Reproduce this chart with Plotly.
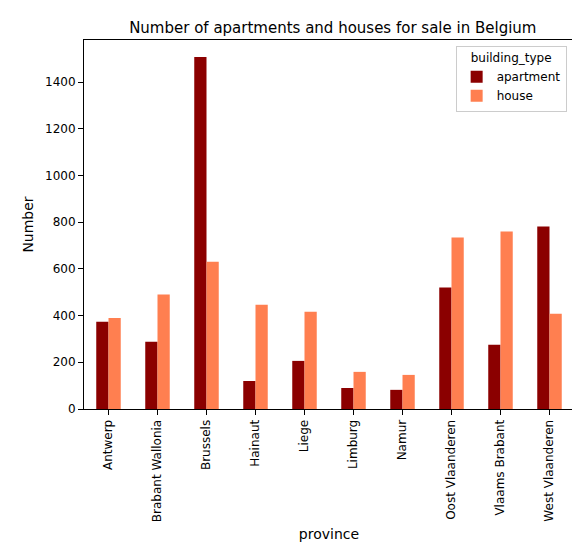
import plotly.graph_objects as go

provinces = ['Antwerp', 'Brabant Wallonia', 'Brussels', 'Hainaut', 'Liege', 'Limburg',
             'Namur', 'Oost Vlaanderen', 'Vlaams Brabant', 'West Vlaanderen']
apartment = [374, 288, 1507, 120, 206, 90, 82, 520, 275, 781]
house = [390, 490, 631, 446, 416, 159, 146, 734, 760, 408]

fig = go.Figure()
fig.add_trace(go.Bar(x=provinces, y=apartment, name='apartment', marker_color='#8B0000'))
fig.add_trace(go.Bar(x=provinces, y=house, name='house', marker_color='#FF7F50'))

axis_style = dict(showline=True, linecolor='black', linewidth=1, mirror=True, ticks='outside',
                  tickcolor='black', showgrid=False, zeroline=False, automargin=False)
fig.update_layout(
    width=580, height=560,
    template='none',
    paper_bgcolor='white', plot_bgcolor='white',
    font=dict(family='DejaVu Sans', size=12, color='black'),
    title=dict(text='Number of apartments and houses for sale in Belgium', x=0.56, y=0.975,
               xanchor='center', font=dict(size=15)),
    barmode='group', bargap=0.5, bargroupgap=0,
    margin=dict(l=76, r=14, t=32, b=159),
    legend=dict(title=dict(text='building_type', side='top center', font=dict(size=12)),
                font=dict(size=12), x=0.985, y=0.985,
                xanchor='right', yanchor='top', bordercolor='#cccccc', borderwidth=1,
                bgcolor='white'),
    xaxis=dict(title=dict(text='province', standoff=8), tickangle=-90, **axis_style),
    yaxis=dict(title=dict(text='Number', standoff=8), range=[0, 1580], dtick=200, **axis_style),
)
fig.write_html("out.html")
